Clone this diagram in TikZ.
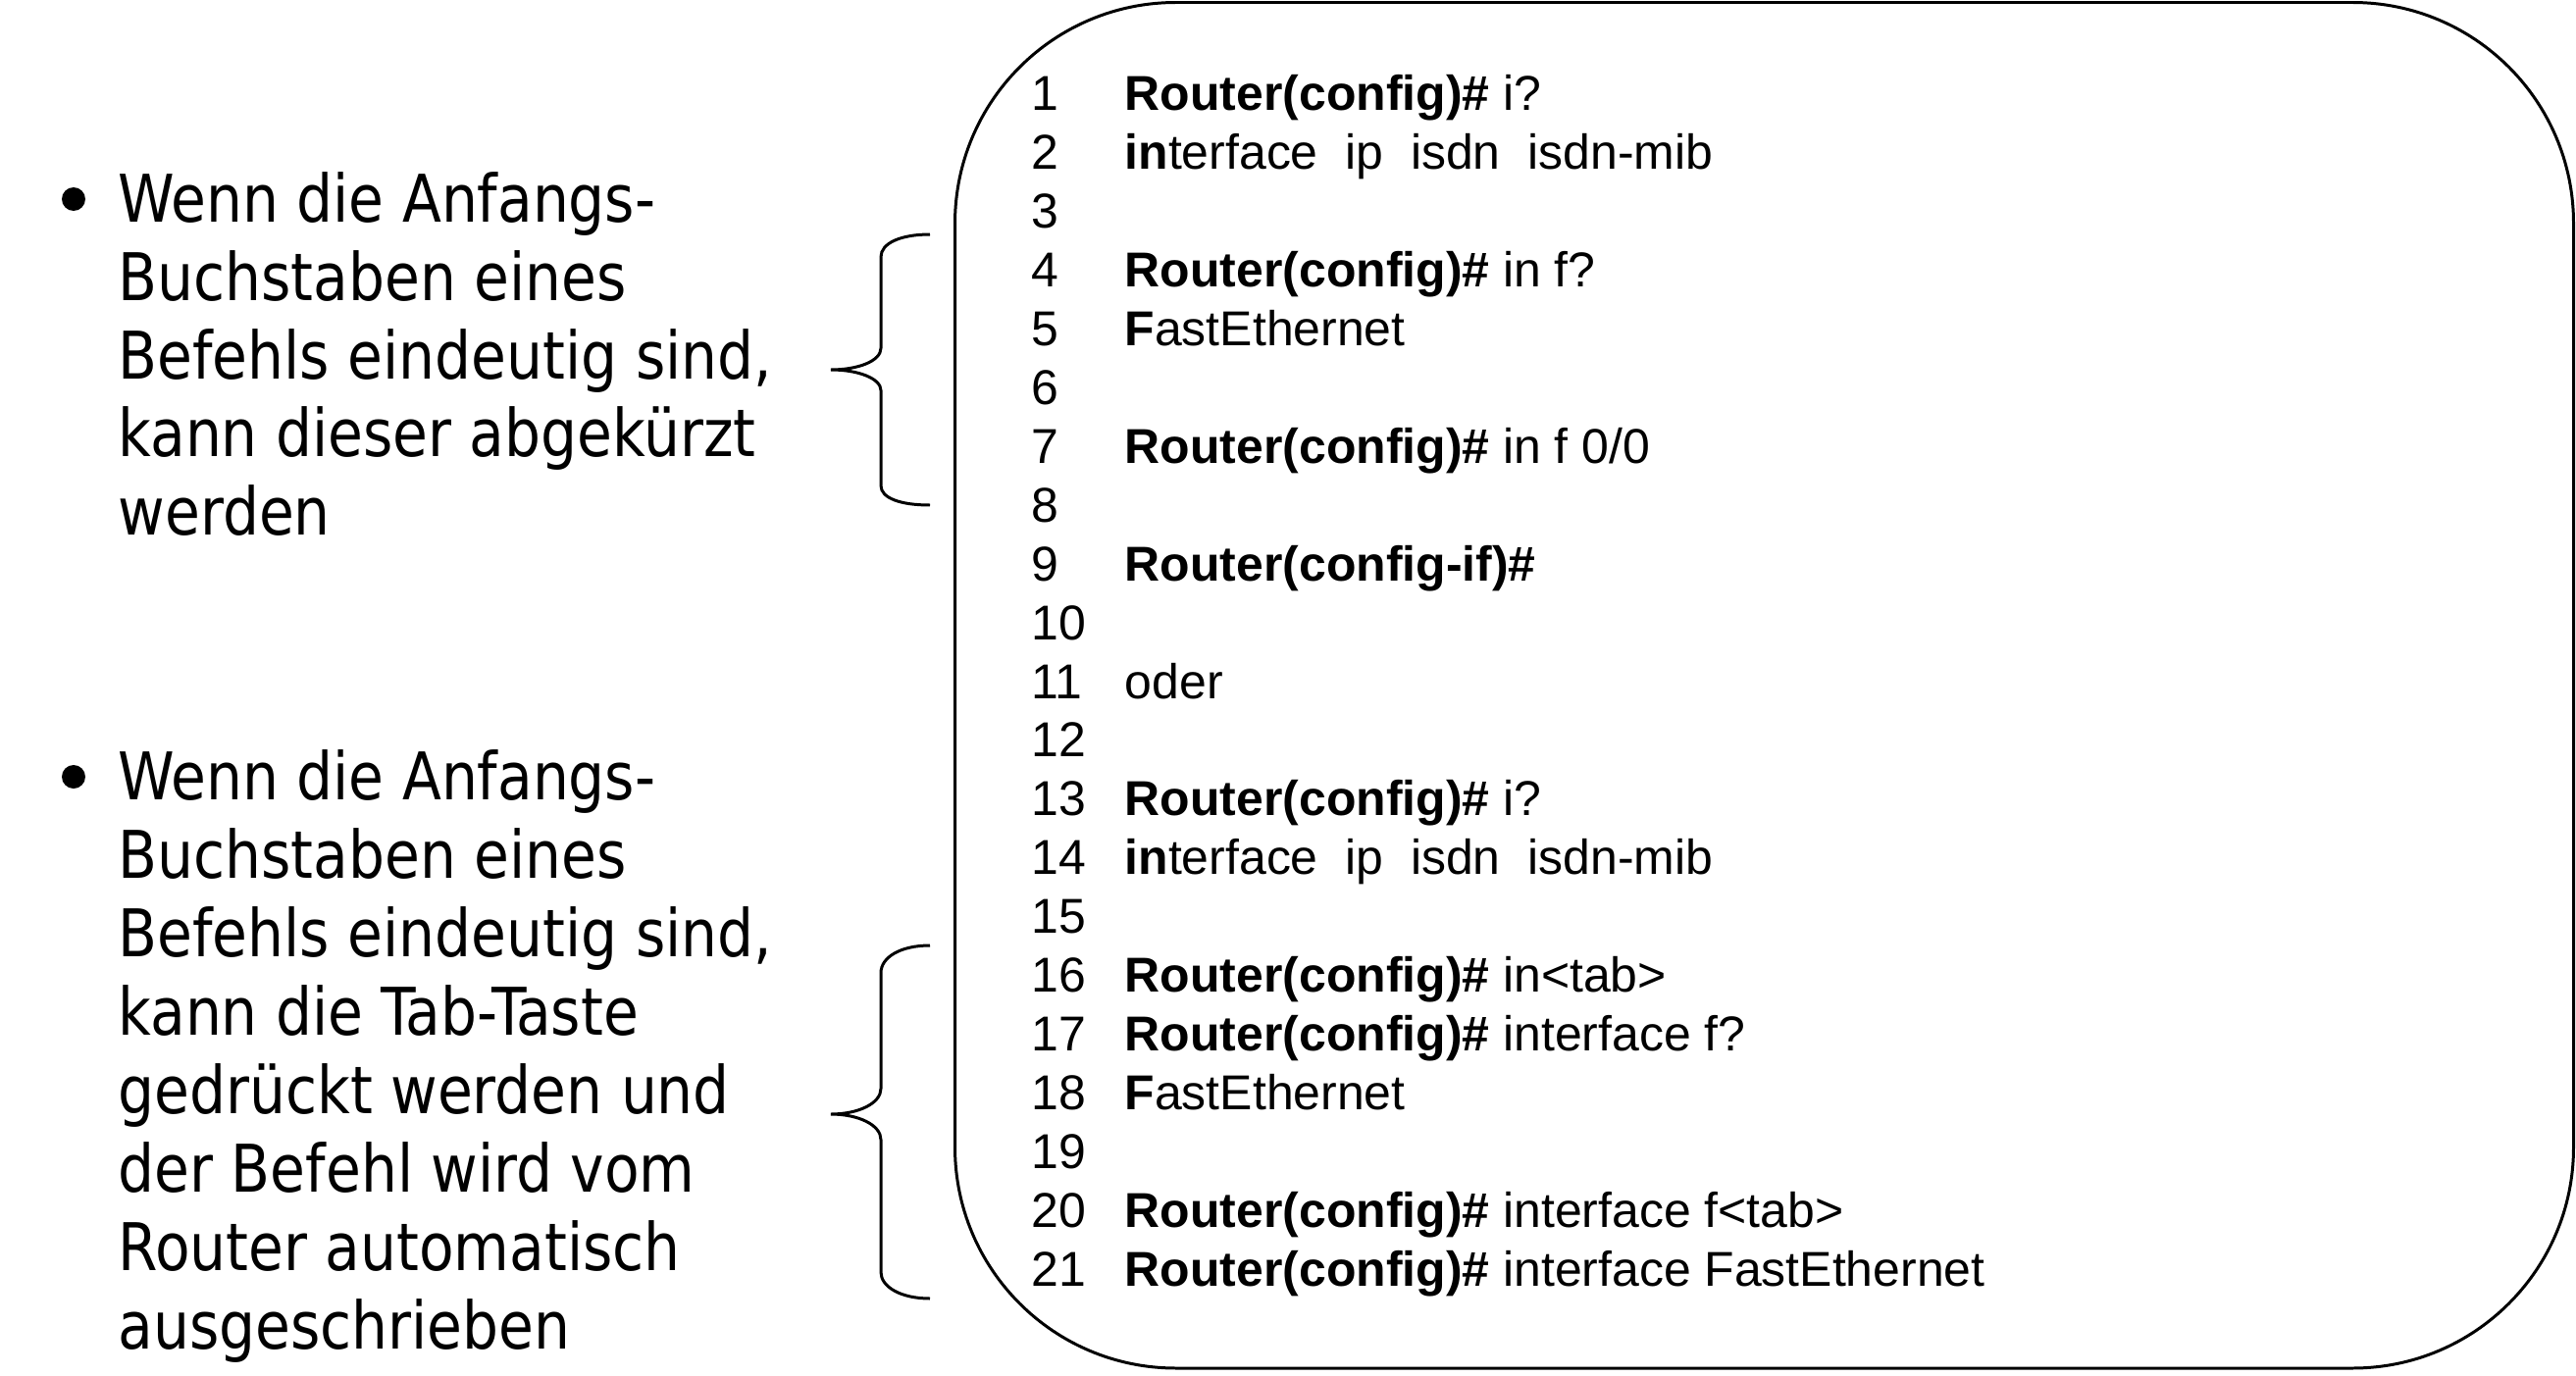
\documentclass[tikz,border=0pt]{standalone}
\usepackage{fontspec}
\IfFontExistsTF{DejaVu Sans Condensed}
  {\newfontfamily\tahoma{DejaVu Sans Condensed}[FakeStretch=0.966]}
  {\newfontfamily\tahoma{DejaVu Sans}[FakeStretch=0.85]}
\newfontfamily\arial{Liberation Sans}
\tikzset{
  btext/.style={anchor=base west, inner sep=0pt, font=\tahoma\fontsize{19.06pt}{22.76pt}\selectfont},
  num/.style={anchor=base west, inner sep=0pt, font=\arial\fontsize{14.2pt}{17pt}\selectfont},
  code/.style={anchor=base west, inner sep=0pt, font=\arial\fontsize{14.2pt}{17pt}\selectfont},
  frame/.style={draw=black, line width=0.85pt, rounded corners=2.25cm},
  bracestroke/.style={draw=black, line width=0.85pt},
  dot/.style={fill=black}
}
\newcommand\numline[1]{\node[num] (n#1) at (1051,{113+59.9*(#1-1)}) {#1};}
\newcommand\codeline[2]{\numline{#1}\node[code] (c#1) at (1146,{113+59.9*(#1-1)}) {#2};}
\newcommand\RC{\textbf{Router(config)\#}}
\begin{document}
\begin{tikzpicture}[x=0.01cm, y=-0.01cm]
\useasboundingbox (0,0) rectangle (2626,1403);
% frame
\draw[frame] (973.5,2.5) rectangle (2623.5,1395);
% left bullets
\fill[dot] (75,203) circle (12);
\node[btext] (a1) at (120,226) {Wenn die Anfangs-};
\node[btext] (a2) at (120,306) {Buchstaben eines};
\node[btext] (a3) at (120,386) {Befehls eindeutig sind,};
\node[btext] (a4) at (120,465) {kann dieser abgekürzt};
\node[btext] (a5) at (120,545) {werden};
\fill[dot] (75,792) circle (12);
\node[btext] (b1) at (120,815) {Wenn die Anfangs-};
\node[btext] (b2) at (120,895) {Buchstaben eines};
\node[btext] (b3) at (120,975) {Befehls eindeutig sind,};
\node[btext] (b4) at (120,1055) {kann die Tab-Taste};
\node[btext] (b5) at (120,1135) {gedrückt werden und};
\node[btext] (b6) at (120,1215) {der Befehl wird vom};
\node[btext] (b7) at (120,1295) {Router automatisch};
\node[btext] (b8) at (120,1375) {ausgeschrieben};
% braces
\draw[bracestroke] (948,239) .. controls (918,239) and (898,248) .. (898,262) -- (898,355)
  .. controls (898,368) and (875,377) .. (847,377)
  .. controls (875,377) and (898,386) .. (898,398) -- (898,495)
  .. controls (898,508) and (918,515) .. (948,515);
\draw[bracestroke] (948,964) .. controls (918,964) and (898,976) .. (898,992) -- (898,1110)
  .. controls (898,1125) and (875,1136) .. (847,1136)
  .. controls (875,1136) and (898,1147) .. (898,1162) -- (898,1297)
  .. controls (898,1312) and (918,1324) .. (948,1324);
% code lines
\codeline{1}{\RC\ i?}
\codeline{2}{\textbf{in}terface\ \ ip\ \ isdn\ \ isdn-mib}
\numline{3}
\codeline{4}{\RC\ in f?}
\codeline{5}{\textbf{F}astEthernet}
\numline{6}
\codeline{7}{\RC\ in f 0/0}
\numline{8}
\codeline{9}{\textbf{Router(config-if)\#}}
\numline{10}
\codeline{11}{oder}
\numline{12}
\codeline{13}{\RC\ i?}
\codeline{14}{\textbf{in}terface\ \ ip\ \ isdn\ \ isdn-mib}
\numline{15}
\codeline{16}{\RC\ in<tab>}
\codeline{17}{\RC\ interface f?}
\codeline{18}{\textbf{F}astEthernet}
\numline{19}
\codeline{20}{\RC\ interface f<tab>}
\codeline{21}{\RC\ interface FastEthernet}
\end{tikzpicture}
\end{document}
